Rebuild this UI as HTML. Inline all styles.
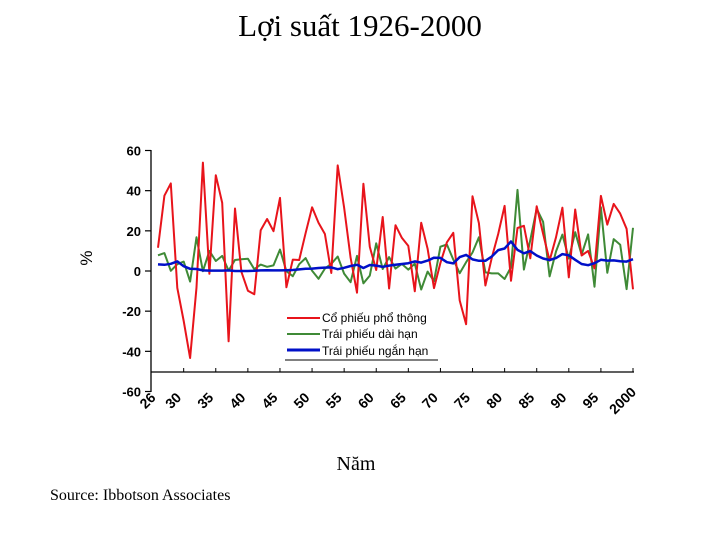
<!DOCTYPE html>
<html><head><meta charset="utf-8">
<style>
body{margin:0;background:#fff;}
svg{display:block;}
</style></head>
<body>
<svg id="chart" width="720" height="540" viewBox="0 0 720 540" xmlns="http://www.w3.org/2000/svg">
<text x="360" y="36" text-anchor="middle" font-family="'Liberation Serif','Noto Serif CJK SC',serif" font-size="31">Lợi suất 1926-2000</text>
<text transform="translate(92,258) rotate(-90)" text-anchor="middle" font-family="'Liberation Sans',sans-serif" font-size="17">%</text>
<text x="356" y="470" text-anchor="middle" font-family="'Liberation Serif','Noto Serif CJK SC',serif" font-size="20">Năm</text>
<text x="50" y="500" font-family="'Liberation Serif',serif" font-size="16">Source: Ibbotson Associates</text>
<g id="axes"></g>
<g id="series"></g>
<g id="legend" font-family="'Liberation Sans','Noto Sans CJK SC',sans-serif" font-size="12">
<line x1="287" y1="318" x2="320" y2="318" stroke="#e8141b" stroke-width="2"/>
<text x="322" y="322">Cổ phiếu phổ thông</text>
<line x1="287" y1="334" x2="320" y2="334" stroke="#3f8a36" stroke-width="2"/>
<text x="322" y="338">Trái phiếu dài hạn</text>
<line x1="287" y1="350" x2="320" y2="350" stroke="#0010c8" stroke-width="3"/>
<text x="322" y="355">Trái phiếu ngắn hạn</text>
<line x1="285" y1="360" x2="438" y2="360" stroke="#000" stroke-width="1"/>
</g>
</svg>
<script>
const years = [];
for (let y = 1926; y <= 2000; y++) years.push(y);
const stocks = [11.6,37.5,43.6,-8.4,-24.9,-43.3,-8.2,54.0,-1.4,47.7,33.9,-35.0,31.1,-0.4,-9.8,-11.6,20.3,25.9,19.8,36.4,-8.1,5.7,5.5,18.8,31.7,24.0,18.4,-1.0,52.6,31.6,6.6,-10.8,43.4,12.0,0.5,26.9,-8.7,22.8,16.5,12.5,-10.1,24.0,11.1,-8.5,4.0,14.3,19.0,-14.7,-26.5,37.2,23.8,-7.2,6.6,18.4,32.4,-4.9,21.4,22.5,6.3,32.2,18.5,5.2,16.8,31.5,-3.2,30.6,7.7,10.0,1.3,37.4,23.1,33.4,28.6,21.0,-9.1];
const longBonds = [7.8,8.9,0.1,3.4,4.7,-5.3,16.8,-0.1,10.0,5.0,7.5,0.2,5.5,5.9,6.1,0.9,3.2,2.1,2.8,10.7,-0.1,-2.6,3.4,6.4,0.1,-3.9,1.2,3.6,7.2,-1.3,-5.6,7.5,-6.1,-2.3,13.8,1.0,6.9,1.2,3.5,0.7,3.7,-9.2,-0.3,-5.1,12.1,13.2,5.7,-1.1,4.4,9.2,16.8,-0.7,-1.2,-1.2,-4.0,1.9,40.4,0.7,15.5,31.0,24.5,-2.7,9.7,18.1,6.2,19.3,8.1,18.2,-7.8,31.7,-0.9,15.9,13.1,-9.0,21.5];
const tBills = [3.3,3.1,3.6,4.8,2.4,1.1,1.0,0.3,0.2,0.2,0.2,0.3,0.0,0.0,0.0,0.1,0.3,0.4,0.3,0.3,0.4,0.5,0.8,1.1,1.2,1.5,1.7,1.8,0.9,1.6,2.5,3.1,1.5,3.0,2.7,2.1,2.7,3.1,3.5,3.9,4.8,4.2,5.2,6.6,6.5,4.4,3.8,6.9,8.0,5.8,5.1,5.1,7.2,10.4,11.2,14.7,10.5,8.8,9.9,7.7,6.2,5.5,6.4,8.4,7.8,5.6,3.5,2.9,3.9,5.6,5.2,5.3,4.9,4.7,5.9];
const yTicks = [60,40,20,0,-20,-40,-60];
const xTickLabels = ["26","30","35","40","45","50","55","60","65","70","75","80","85","90","95","2000"];
const xTickYears = [1926,1930,1935,1940,1945,1950,1955,1960,1965,1970,1975,1980,1985,1990,1995,2000];

const NS = "http://www.w3.org/2000/svg";
function xs(yr){ return 158 + (yr - 1926) * (475 / 74); }
function ys(v){ return 271 - v * (120.5 / 60); }
function mk(tag, attrs, parent){
  const e = document.createElementNS(NS, tag);
  for (const k in attrs) e.setAttribute(k, attrs[k]);
  parent.appendChild(e); return e;
}
const axes = document.getElementById('axes');
const yAxis = mk('line', {x1:151,y1:150,x2:151,y2:392,stroke:'#000','stroke-width':1.3}, axes);


const xAxis = mk('line', {x1:151,y1:372,x2:634,y2:372,stroke:'#000','stroke-width':1.3}, axes);


yTicks.forEach(v => {
  const t = mk('line', {x1:145,y1:ys(v),x2:151,y2:ys(v),stroke:'#000','stroke-width':1.2}, axes);
  
  
  const l = mk('text', {x:141,y:ys(v)+5,'text-anchor':'end','font-family':"'Liberation Sans',sans-serif",'font-size':13,'font-weight':'bold'}, axes);
  l.textContent = v;
  
  
});
xTickYears.forEach((yr, i) => {
  const x = xs(yr);
  if (i > 0) {
    const t = mk('line', {x1:x,y1:368,x2:x,y2:372,stroke:'#000','stroke-width':1}, axes);
    
    
  }
  const l = mk('text', {transform:`translate(${x-7},${404}) rotate(-45)`,'text-anchor':'middle','font-family':"'Liberation Sans',sans-serif",'font-size':14,'font-weight':'bold'}, axes);
  l.textContent = xTickLabels[i];
  
  
});
const series = document.getElementById('series');
function line(vals, color, w, name){
  const d = vals.map((v,i) => (i?'L':'M') + xs(years[i]).toFixed(1) + ',' + ys(v).toFixed(1)).join(' ');
  const p = mk('path', {d:d,fill:'none',stroke:color,'stroke-width':w,'stroke-linejoin':'round'}, series);
  
  
}
line(longBonds, '#3f8a36', 2, 'long-bonds-line');
line(stocks, '#e8141b', 2, 'stocks-line');
line(tBills, '#0010c8', 2.5, 't-bills-line');
</script>
</body></html>
